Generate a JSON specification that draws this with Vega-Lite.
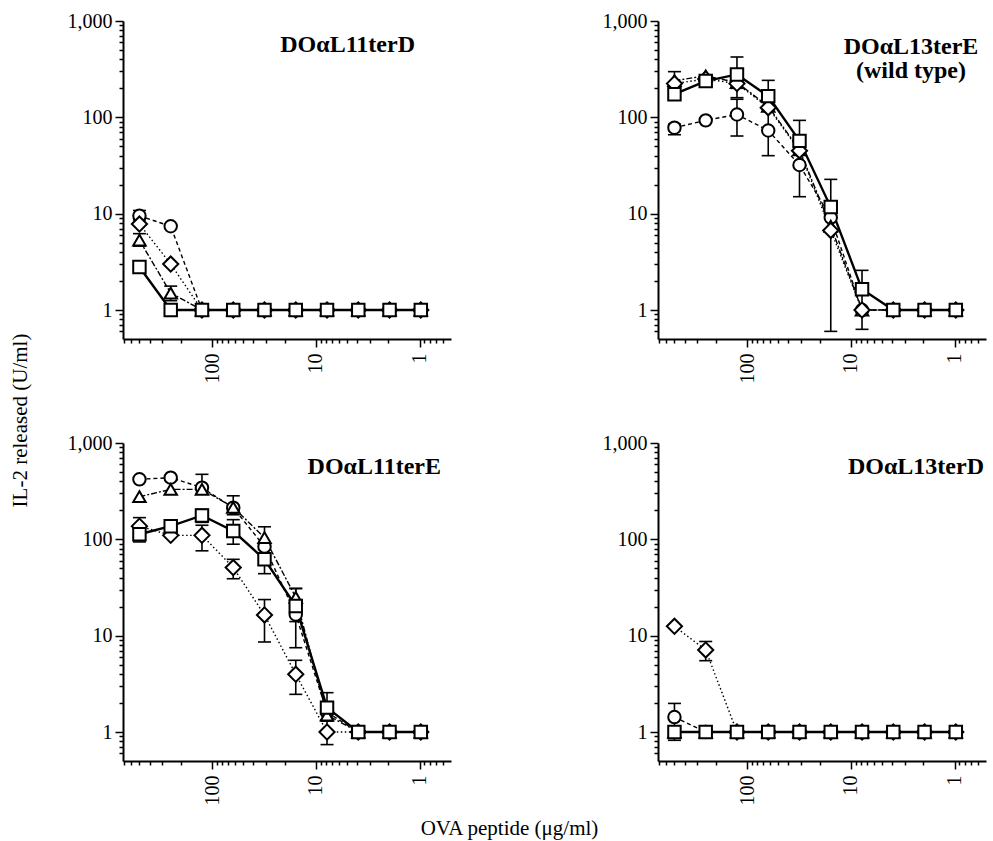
{
  "$schema": "https://vega.github.io/schema/vega-lite/v6.json",
  "background": "white",
  "padding": {"left": 9, "top": 11, "right": 5, "bottom": 3},
  "bounds": "flush",
  "columns": 2,
  "spacing": {"row": 104, "column": 207},
  "config": {
    "view": {"stroke": null},
    "axis": {"grid": false, "domainColor": "black", "domainWidth": 2, "tickColor": "black", "tickWidth": 1.5,
      "labelFont": "Liberation Serif", "labelFontSize": 20, "labelColor": "black",
      "titleFont": "Liberation Serif", "titleFontSize": 21, "titleFontWeight": "normal", "titleColor": "black"},
    "title": {"font": "Liberation Serif", "fontSize": 24, "fontWeight": "bold", "color": "black"}
  },
  "datasets": {
    "pts": [
      {"p":"A","s":"o","c":500,"v":9.5,"lo":8.6,"hi":10.8},
      {"p":"A","s":"o","c":250,"v":7.4},
      {"p":"A","s":"o","c":125,"v":1},{"p":"A","s":"o","c":62.5,"v":1},{"p":"A","s":"o","c":31.25,"v":1},{"p":"A","s":"o","c":15.625,"v":1},{"p":"A","s":"o","c":7.8125,"v":1},{"p":"A","s":"o","c":3.90625,"v":1},{"p":"A","s":"o","c":1.953125,"v":1},{"p":"A","s":"o","c":0.9765625,"v":1},
      {"p":"A","s":"t","c":500,"v":5.3,"lo":4.6,"hi":6.2},
      {"p":"A","s":"t","c":250,"v":1.5,"lo":1.25,"hi":1.77},
      {"p":"A","s":"t","c":125,"v":1},{"p":"A","s":"t","c":62.5,"v":1},{"p":"A","s":"t","c":31.25,"v":1},{"p":"A","s":"t","c":15.625,"v":1},{"p":"A","s":"t","c":7.8125,"v":1},{"p":"A","s":"t","c":3.90625,"v":1},{"p":"A","s":"t","c":1.953125,"v":1},{"p":"A","s":"t","c":0.9765625,"v":1},
      {"p":"A","s":"d","c":500,"v":7.8},
      {"p":"A","s":"d","c":250,"v":3.0},
      {"p":"A","s":"d","c":125,"v":1},{"p":"A","s":"d","c":62.5,"v":1},{"p":"A","s":"d","c":31.25,"v":1},{"p":"A","s":"d","c":15.625,"v":1},{"p":"A","s":"d","c":7.8125,"v":1},{"p":"A","s":"d","c":3.90625,"v":1},{"p":"A","s":"d","c":1.953125,"v":1},{"p":"A","s":"d","c":0.9765625,"v":1},
      {"p":"A","s":"s","c":500,"v":2.8},
      {"p":"A","s":"s","c":250,"v":1},
      {"p":"A","s":"s","c":125,"v":1},{"p":"A","s":"s","c":62.5,"v":1},{"p":"A","s":"s","c":31.25,"v":1},{"p":"A","s":"s","c":15.625,"v":1},{"p":"A","s":"s","c":7.8125,"v":1},{"p":"A","s":"s","c":3.90625,"v":1},{"p":"A","s":"s","c":1.953125,"v":1},{"p":"A","s":"s","c":0.9765625,"v":1},

      {"p":"B","s":"o","c":500,"v":78,"lo":66,"hi":85},
      {"p":"B","s":"o","c":250,"v":93},
      {"p":"B","s":"o","c":125,"v":107,"lo":64,"hi":154},
      {"p":"B","s":"o","c":62.5,"v":73,"lo":40,"hi":120},
      {"p":"B","s":"o","c":31.25,"v":32,"lo":15,"hi":50},
      {"p":"B","s":"o","c":15.625,"v":9.1},
      {"p":"B","s":"o","c":7.8125,"v":1},{"p":"B","s":"o","c":3.90625,"v":1},{"p":"B","s":"o","c":1.953125,"v":1},{"p":"B","s":"o","c":0.9765625,"v":1},
      {"p":"B","s":"t","c":500,"v":240},
      {"p":"B","s":"t","c":250,"v":270},
      {"p":"B","s":"t","c":125,"v":230},
      {"p":"B","s":"t","c":62.5,"v":130},
      {"p":"B","s":"t","c":31.25,"v":46},
      {"p":"B","s":"t","c":15.625,"v":7.4},
      {"p":"B","s":"t","c":7.8125,"v":1},{"p":"B","s":"t","c":3.90625,"v":1},{"p":"B","s":"t","c":1.953125,"v":1},{"p":"B","s":"t","c":0.9765625,"v":1},
      {"p":"B","s":"d","c":500,"v":224,"lo":195,"hi":298},
      {"p":"B","s":"d","c":250,"v":250},
      {"p":"B","s":"d","c":125,"v":224,"lo":160,"hi":280},
      {"p":"B","s":"d","c":62.5,"v":126},
      {"p":"B","s":"d","c":31.25,"v":45},
      {"p":"B","s":"d","c":15.625,"v":6.7},
      {"p":"B","s":"d","c":7.8125,"v":1},{"p":"B","s":"d","c":3.90625,"v":1},{"p":"B","s":"d","c":1.953125,"v":1},{"p":"B","s":"d","c":0.9765625,"v":1},
      {"p":"B","s":"s","c":500,"v":174},
      {"p":"B","s":"s","c":250,"v":238},
      {"p":"B","s":"s","c":125,"v":279,"lo":200,"hi":423},
      {"p":"B","s":"s","c":62.5,"v":166,"lo":130,"hi":242},
      {"p":"B","s":"s","c":31.25,"v":57,"lo":45,"hi":93},
      {"p":"B","s":"s","c":15.625,"v":11.7,"lo":0.6,"hi":22.7},
      {"p":"B","s":"s","c":7.8125,"v":1.64,"lo":0.63,"hi":2.58},
      {"p":"B","s":"s","c":3.90625,"v":1},{"p":"B","s":"s","c":1.953125,"v":1},{"p":"B","s":"s","c":0.9765625,"v":1},

      {"p":"C","s":"o","c":500,"v":420},
      {"p":"C","s":"o","c":250,"v":437},
      {"p":"C","s":"o","c":125,"v":344,"lo":300,"hi":473},
      {"p":"C","s":"o","c":62.5,"v":213,"lo":180,"hi":283},
      {"p":"C","s":"o","c":31.25,"v":84,"lo":70,"hi":135},
      {"p":"C","s":"o","c":15.625,"v":16.6,"lo":7.5,"hi":31},
      {"p":"C","s":"o","c":7.8125,"v":1.6},
      {"p":"C","s":"o","c":3.90625,"v":1},{"p":"C","s":"o","c":1.953125,"v":1},{"p":"C","s":"o","c":0.9765625,"v":1},
      {"p":"C","s":"t","c":500,"v":277},
      {"p":"C","s":"t","c":250,"v":330},
      {"p":"C","s":"t","c":125,"v":330},
      {"p":"C","s":"t","c":62.5,"v":215},
      {"p":"C","s":"t","c":31.25,"v":104},
      {"p":"C","s":"t","c":15.625,"v":25},
      {"p":"C","s":"t","c":7.8125,"v":1.5},
      {"p":"C","s":"t","c":3.90625,"v":1},{"p":"C","s":"t","c":1.953125,"v":1},{"p":"C","s":"t","c":0.9765625,"v":1},
      {"p":"C","s":"d","c":500,"v":137,"lo":115,"hi":168},
      {"p":"C","s":"d","c":250,"v":110},
      {"p":"C","s":"d","c":125,"v":110,"lo":76,"hi":140},
      {"p":"C","s":"d","c":62.5,"v":51,"lo":39,"hi":62},
      {"p":"C","s":"d","c":31.25,"v":16.4,"lo":8.6,"hi":23.7},
      {"p":"C","s":"d","c":15.625,"v":3.97,"lo":2.46,"hi":5.55},
      {"p":"C","s":"d","c":7.8125,"v":1,"lo":0.74,"hi":1.3},
      {"p":"C","s":"d","c":3.90625,"v":1},{"p":"C","s":"d","c":1.953125,"v":1},{"p":"C","s":"d","c":0.9765625,"v":1},
      {"p":"C","s":"s","c":500,"v":113,"lo":94,"hi":125},
      {"p":"C","s":"s","c":250,"v":137},
      {"p":"C","s":"s","c":125,"v":177,"lo":150,"hi":205},
      {"p":"C","s":"s","c":62.5,"v":122,"lo":89,"hi":160},
      {"p":"C","s":"s","c":31.25,"v":62,"lo":44,"hi":85},
      {"p":"C","s":"s","c":15.625,"v":20.3,"lo":14,"hi":30.8},
      {"p":"C","s":"s","c":7.8125,"v":1.79,"lo":1.3,"hi":2.56},
      {"p":"C","s":"s","c":3.90625,"v":1},{"p":"C","s":"s","c":1.953125,"v":1},{"p":"C","s":"s","c":0.9765625,"v":1},

      {"p":"D","s":"o","c":500,"v":1.43,"lo":1.1,"hi":1.98},
      {"p":"D","s":"o","c":250,"v":1},{"p":"D","s":"o","c":125,"v":1},{"p":"D","s":"o","c":62.5,"v":1},{"p":"D","s":"o","c":31.25,"v":1},{"p":"D","s":"o","c":15.625,"v":1},{"p":"D","s":"o","c":7.8125,"v":1},{"p":"D","s":"o","c":3.90625,"v":1},{"p":"D","s":"o","c":1.953125,"v":1},{"p":"D","s":"o","c":0.9765625,"v":1},
      {"p":"D","s":"t","c":500,"v":1},{"p":"D","s":"t","c":250,"v":1},{"p":"D","s":"t","c":125,"v":1},{"p":"D","s":"t","c":62.5,"v":1},{"p":"D","s":"t","c":31.25,"v":1},{"p":"D","s":"t","c":15.625,"v":1},{"p":"D","s":"t","c":7.8125,"v":1},{"p":"D","s":"t","c":3.90625,"v":1},{"p":"D","s":"t","c":1.953125,"v":1},{"p":"D","s":"t","c":0.9765625,"v":1},
      {"p":"D","s":"d","c":500,"v":12.5},
      {"p":"D","s":"d","c":250,"v":7.1,"lo":5.5,"hi":8.7},
      {"p":"D","s":"d","c":125,"v":1},{"p":"D","s":"d","c":62.5,"v":1},{"p":"D","s":"d","c":31.25,"v":1},{"p":"D","s":"d","c":15.625,"v":1},{"p":"D","s":"d","c":7.8125,"v":1},{"p":"D","s":"d","c":3.90625,"v":1},{"p":"D","s":"d","c":1.953125,"v":1},{"p":"D","s":"d","c":0.9765625,"v":1},
      {"p":"D","s":"s","c":500,"v":1,"lo":0.82,"hi":1.0},
      {"p":"D","s":"s","c":250,"v":1},{"p":"D","s":"s","c":125,"v":1},{"p":"D","s":"s","c":62.5,"v":1},{"p":"D","s":"s","c":31.25,"v":1},{"p":"D","s":"s","c":15.625,"v":1},{"p":"D","s":"s","c":7.8125,"v":1},{"p":"D","s":"s","c":3.90625,"v":1},{"p":"D","s":"s","c":1.953125,"v":1},{"p":"D","s":"s","c":0.9765625,"v":1}
    ]
  },
  "concat": [
    {
      "width": 328, "height": 318,
      "data": {"name": "pts"},
      "transform": [{"filter": "datum.p === 'A'"}],
      "title": {"text": "DOαL11terD", "anchor": "end", "frame": "group", "offset": -65, "dx": -36, "baseline": "alphabetic"},
      "encoding": {
        "x": {"field": "c", "type": "quantitative", "scale": {"type": "log", "domain": [0.5, 720], "reverse": true, "nice": false},
          "axis": {"title": null, "values": [700,600,500,400,300,200,100,90,80,70,60,50,40,30,20,10,9,8,7,6,5,4,3,2,1,0.9,0.8,0.7,0.6],
            "labelExpr": "indexof([1,10,100], datum.value) >= 0 ? '' + datum.value : ''", "labelAngle": 270, "labelPadding": 6,
            "labelOverlap": false, "labelFlush": false, "labelBound": false,
            "tickSize": {"condition": {"test": "indexof([1,10,100], datum.value) >= 0", "value": 8}, "value": 4}}},
        "y": {"field": "v", "type": "quantitative", "scale": {"type": "log", "domain": [0.5, 1000], "nice": false},
          "axis": {"title": "IL-2 released (U/ml)", "titleX": -103, "titleY": 399, "titleAngle": 270, "titleBaseline": "middle", "titleAlign": "center",
            "values": [0.6,0.7,0.8,0.9,1,2,3,4,5,6,7,8,9,10,20,30,40,50,60,70,80,90,100,200,300,400,500,600,700,800,900,1000],
            "labelExpr": "indexof([1,10,100,1000], datum.value) >= 0 ? format(datum.value, ',') : ''", "labelPadding": 3, "labelOverlap": false, "labelFlush": false, "labelBound": false,
            "tickSize": {"condition": {"test": "indexof([1,10,100,1000], datum.value) >= 0", "value": 8}, "value": 4}}}
      },
      "layer": [
        {"transform": [{"filter": "datum.s !== 's'"}], "mark": {"type": "line", "color": "black", "strokeWidth": 1.4},
          "encoding": {"strokeDash": {"field": "s", "type": "nominal", "scale": {"domain": ["o","t","d"], "range": [[4,3],[6,2,2,2],[1.5,2.5]]}, "legend": null}}},
        {"transform": [{"filter": "datum.s === 's'"}], "mark": {"type": "line", "color": "black", "strokeWidth": 2.4}, "encoding": {}},
        {"transform": [{"filter": "isValid(datum.hi)"}], "mark": {"type": "rule", "color": "black", "strokeWidth": 1.6},
          "encoding": {"y": {"field": "lo", "type": "quantitative", "scale": {"type": "log", "domain": [0.5, 1000], "nice": false},
          "axis": {"title": "IL-2 released (U/ml)", "titleX": -103, "titleY": 399, "titleAngle": 270, "titleBaseline": "middle", "titleAlign": "center",
            "values": [0.6,0.7,0.8,0.9,1,2,3,4,5,6,7,8,9,10,20,30,40,50,60,70,80,90,100,200,300,400,500,600,700,800,900,1000],
            "labelExpr": "indexof([1,10,100,1000], datum.value) >= 0 ? format(datum.value, ',') : ''", "labelPadding": 3, "labelOverlap": false, "labelFlush": false, "labelBound": false,
            "tickSize": {"condition": {"test": "indexof([1,10,100,1000], datum.value) >= 0", "value": 8}, "value": 4}}}, "y2": {"field": "hi"}}},
        {"transform": [{"filter": "isValid(datum.hi)"}], "mark": {"type": "tick", "orient": "horizontal", "color": "black", "size": 13, "thickness": 1.6, "opacity": 1},
          "encoding": {"y": {"field": "hi", "type": "quantitative", "scale": {"type": "log", "domain": [0.5, 1000], "nice": false},
          "axis": {"title": "IL-2 released (U/ml)", "titleX": -103, "titleY": 399, "titleAngle": 270, "titleBaseline": "middle", "titleAlign": "center",
            "values": [0.6,0.7,0.8,0.9,1,2,3,4,5,6,7,8,9,10,20,30,40,50,60,70,80,90,100,200,300,400,500,600,700,800,900,1000],
            "labelExpr": "indexof([1,10,100,1000], datum.value) >= 0 ? format(datum.value, ',') : ''", "labelPadding": 3, "labelOverlap": false, "labelFlush": false, "labelBound": false,
            "tickSize": {"condition": {"test": "indexof([1,10,100,1000], datum.value) >= 0", "value": 8}, "value": 4}}}}},
        {"transform": [{"filter": "isValid(datum.lo)"}], "mark": {"type": "tick", "orient": "horizontal", "color": "black", "size": 13, "thickness": 1.6, "opacity": 1},
          "encoding": {"y": {"field": "lo", "type": "quantitative", "scale": {"type": "log", "domain": [0.5, 1000], "nice": false},
          "axis": {"title": "IL-2 released (U/ml)", "titleX": -103, "titleY": 399, "titleAngle": 270, "titleBaseline": "middle", "titleAlign": "center",
            "values": [0.6,0.7,0.8,0.9,1,2,3,4,5,6,7,8,9,10,20,30,40,50,60,70,80,90,100,200,300,400,500,600,700,800,900,1000],
            "labelExpr": "indexof([1,10,100,1000], datum.value) >= 0 ? format(datum.value, ',') : ''", "labelPadding": 3, "labelOverlap": false, "labelFlush": false, "labelBound": false,
            "tickSize": {"condition": {"test": "indexof([1,10,100,1000], datum.value) >= 0", "value": 8}, "value": 4}}}}},
        {"mark": {"type": "point", "filled": true, "fill": "white", "stroke": "black", "strokeWidth": 2, "opacity": 1},
          "encoding": {"shape": {"field": "s", "type": "nominal", "scale": {"domain": ["o","t","d","s"], "range": ["circle","triangle-up","diamond","square"]}, "legend": null},
            "size": {"condition": {"test": "datum.s === 'd'", "value": 230}, "value": 155}}}
      ]
    },
    {
      "width": 328, "height": 318,
      "data": {"name": "pts"},
      "transform": [{"filter": "datum.p === 'B'"}],
      "title": {"text": ["DOαL13terE", "(wild  type)"], "anchor": "end", "frame": "group", "offset": -91, "dx": -75, "align": "center", "baseline": "alphabetic", "lineHeight": 24},
      "encoding": {
        "x": {"field": "c", "type": "quantitative", "scale": {"type": "log", "domain": [0.5, 720], "reverse": true, "nice": false},
          "axis": {"title": null, "values": [700,600,500,400,300,200,100,90,80,70,60,50,40,30,20,10,9,8,7,6,5,4,3,2,1,0.9,0.8,0.7,0.6],
            "labelExpr": "indexof([1,10,100], datum.value) >= 0 ? '' + datum.value : ''", "labelAngle": 270, "labelPadding": 6,
            "labelOverlap": false, "labelFlush": false, "labelBound": false,
            "tickSize": {"condition": {"test": "indexof([1,10,100], datum.value) >= 0", "value": 8}, "value": 4}}},
        "y": {"field": "v", "type": "quantitative", "scale": {"type": "log", "domain": [0.5, 1000], "nice": false},
          "axis": {"title": null,
            "values": [0.6,0.7,0.8,0.9,1,2,3,4,5,6,7,8,9,10,20,30,40,50,60,70,80,90,100,200,300,400,500,600,700,800,900,1000],
            "labelExpr": "indexof([1,10,100,1000], datum.value) >= 0 ? format(datum.value, ',') : ''", "labelPadding": 3, "labelOverlap": false, "labelFlush": false, "labelBound": false,
            "tickSize": {"condition": {"test": "indexof([1,10,100,1000], datum.value) >= 0", "value": 8}, "value": 4}}}
      },
      "layer": [
        {"transform": [{"filter": "datum.s !== 's'"}], "mark": {"type": "line", "color": "black", "strokeWidth": 1.4},
          "encoding": {"strokeDash": {"field": "s", "type": "nominal", "scale": {"domain": ["o","t","d"], "range": [[4,3],[6,2,2,2],[1.5,2.5]]}, "legend": null}}},
        {"transform": [{"filter": "datum.s === 's'"}], "mark": {"type": "line", "color": "black", "strokeWidth": 2.4}, "encoding": {}},
        {"transform": [{"filter": "isValid(datum.hi)"}], "mark": {"type": "rule", "color": "black", "strokeWidth": 1.6},
          "encoding": {"y": {"field": "lo", "type": "quantitative", "scale": {"type": "log", "domain": [0.5, 1000], "nice": false},
          "axis": {"title": null,
            "values": [0.6,0.7,0.8,0.9,1,2,3,4,5,6,7,8,9,10,20,30,40,50,60,70,80,90,100,200,300,400,500,600,700,800,900,1000],
            "labelExpr": "indexof([1,10,100,1000], datum.value) >= 0 ? format(datum.value, ',') : ''", "labelPadding": 3, "labelOverlap": false, "labelFlush": false, "labelBound": false,
            "tickSize": {"condition": {"test": "indexof([1,10,100,1000], datum.value) >= 0", "value": 8}, "value": 4}}}, "y2": {"field": "hi"}}},
        {"transform": [{"filter": "isValid(datum.hi)"}], "mark": {"type": "tick", "orient": "horizontal", "color": "black", "size": 13, "thickness": 1.6, "opacity": 1},
          "encoding": {"y": {"field": "hi", "type": "quantitative", "scale": {"type": "log", "domain": [0.5, 1000], "nice": false},
          "axis": {"title": null,
            "values": [0.6,0.7,0.8,0.9,1,2,3,4,5,6,7,8,9,10,20,30,40,50,60,70,80,90,100,200,300,400,500,600,700,800,900,1000],
            "labelExpr": "indexof([1,10,100,1000], datum.value) >= 0 ? format(datum.value, ',') : ''", "labelPadding": 3, "labelOverlap": false, "labelFlush": false, "labelBound": false,
            "tickSize": {"condition": {"test": "indexof([1,10,100,1000], datum.value) >= 0", "value": 8}, "value": 4}}}}},
        {"transform": [{"filter": "isValid(datum.lo)"}], "mark": {"type": "tick", "orient": "horizontal", "color": "black", "size": 13, "thickness": 1.6, "opacity": 1},
          "encoding": {"y": {"field": "lo", "type": "quantitative", "scale": {"type": "log", "domain": [0.5, 1000], "nice": false},
          "axis": {"title": null,
            "values": [0.6,0.7,0.8,0.9,1,2,3,4,5,6,7,8,9,10,20,30,40,50,60,70,80,90,100,200,300,400,500,600,700,800,900,1000],
            "labelExpr": "indexof([1,10,100,1000], datum.value) >= 0 ? format(datum.value, ',') : ''", "labelPadding": 3, "labelOverlap": false, "labelFlush": false, "labelBound": false,
            "tickSize": {"condition": {"test": "indexof([1,10,100,1000], datum.value) >= 0", "value": 8}, "value": 4}}}}},
        {"mark": {"type": "point", "filled": true, "fill": "white", "stroke": "black", "strokeWidth": 2, "opacity": 1},
          "encoding": {"shape": {"field": "s", "type": "nominal", "scale": {"domain": ["o","t","d","s"], "range": ["circle","triangle-up","diamond","square"]}, "legend": null},
            "size": {"condition": {"test": "datum.s === 'd'", "value": 230}, "value": 155}}}
      ]
    },
    {
      "width": 328, "height": 318,
      "data": {"name": "pts"},
      "transform": [{"filter": "datum.p === 'C'"}],
      "title": {"text": "DOαL11terE", "anchor": "end", "frame": "group", "offset": -65, "dx": -10, "baseline": "alphabetic"},
      "encoding": {
        "x": {"field": "c", "type": "quantitative", "scale": {"type": "log", "domain": [0.5, 720], "reverse": true, "nice": false},
          "axis": {"title": "OVA peptide (μg/ml)", "titleX": 386, "titleY": 67, "titleBaseline": "middle", "titleAlign": "center",
            "values": [700,600,500,400,300,200,100,90,80,70,60,50,40,30,20,10,9,8,7,6,5,4,3,2,1,0.9,0.8,0.7,0.6],
            "labelExpr": "indexof([1,10,100], datum.value) >= 0 ? '' + datum.value : ''", "labelAngle": 270, "labelPadding": 6,
            "labelOverlap": false, "labelFlush": false, "labelBound": false,
            "tickSize": {"condition": {"test": "indexof([1,10,100], datum.value) >= 0", "value": 8}, "value": 4}}},
        "y": {"field": "v", "type": "quantitative", "scale": {"type": "log", "domain": [0.5, 1000], "nice": false},
          "axis": {"title": null,
            "values": [0.6,0.7,0.8,0.9,1,2,3,4,5,6,7,8,9,10,20,30,40,50,60,70,80,90,100,200,300,400,500,600,700,800,900,1000],
            "labelExpr": "indexof([1,10,100,1000], datum.value) >= 0 ? format(datum.value, ',') : ''", "labelPadding": 3, "labelOverlap": false, "labelFlush": false, "labelBound": false,
            "tickSize": {"condition": {"test": "indexof([1,10,100,1000], datum.value) >= 0", "value": 8}, "value": 4}}}
      },
      "layer": [
        {"transform": [{"filter": "datum.s !== 's'"}], "mark": {"type": "line", "color": "black", "strokeWidth": 1.4},
          "encoding": {"strokeDash": {"field": "s", "type": "nominal", "scale": {"domain": ["o","t","d"], "range": [[4,3],[6,2,2,2],[1.5,2.5]]}, "legend": null}}},
        {"transform": [{"filter": "datum.s === 's'"}], "mark": {"type": "line", "color": "black", "strokeWidth": 2.4}, "encoding": {}},
        {"transform": [{"filter": "isValid(datum.hi)"}], "mark": {"type": "rule", "color": "black", "strokeWidth": 1.6},
          "encoding": {"y": {"field": "lo", "type": "quantitative", "scale": {"type": "log", "domain": [0.5, 1000], "nice": false},
          "axis": {"title": null,
            "values": [0.6,0.7,0.8,0.9,1,2,3,4,5,6,7,8,9,10,20,30,40,50,60,70,80,90,100,200,300,400,500,600,700,800,900,1000],
            "labelExpr": "indexof([1,10,100,1000], datum.value) >= 0 ? format(datum.value, ',') : ''", "labelPadding": 3, "labelOverlap": false, "labelFlush": false, "labelBound": false,
            "tickSize": {"condition": {"test": "indexof([1,10,100,1000], datum.value) >= 0", "value": 8}, "value": 4}}}, "y2": {"field": "hi"}}},
        {"transform": [{"filter": "isValid(datum.hi)"}], "mark": {"type": "tick", "orient": "horizontal", "color": "black", "size": 13, "thickness": 1.6, "opacity": 1},
          "encoding": {"y": {"field": "hi", "type": "quantitative", "scale": {"type": "log", "domain": [0.5, 1000], "nice": false},
          "axis": {"title": null,
            "values": [0.6,0.7,0.8,0.9,1,2,3,4,5,6,7,8,9,10,20,30,40,50,60,70,80,90,100,200,300,400,500,600,700,800,900,1000],
            "labelExpr": "indexof([1,10,100,1000], datum.value) >= 0 ? format(datum.value, ',') : ''", "labelPadding": 3, "labelOverlap": false, "labelFlush": false, "labelBound": false,
            "tickSize": {"condition": {"test": "indexof([1,10,100,1000], datum.value) >= 0", "value": 8}, "value": 4}}}}},
        {"transform": [{"filter": "isValid(datum.lo)"}], "mark": {"type": "tick", "orient": "horizontal", "color": "black", "size": 13, "thickness": 1.6, "opacity": 1},
          "encoding": {"y": {"field": "lo", "type": "quantitative", "scale": {"type": "log", "domain": [0.5, 1000], "nice": false},
          "axis": {"title": null,
            "values": [0.6,0.7,0.8,0.9,1,2,3,4,5,6,7,8,9,10,20,30,40,50,60,70,80,90,100,200,300,400,500,600,700,800,900,1000],
            "labelExpr": "indexof([1,10,100,1000], datum.value) >= 0 ? format(datum.value, ',') : ''", "labelPadding": 3, "labelOverlap": false, "labelFlush": false, "labelBound": false,
            "tickSize": {"condition": {"test": "indexof([1,10,100,1000], datum.value) >= 0", "value": 8}, "value": 4}}}}},
        {"mark": {"type": "point", "filled": true, "fill": "white", "stroke": "black", "strokeWidth": 2, "opacity": 1},
          "encoding": {"shape": {"field": "s", "type": "nominal", "scale": {"domain": ["o","t","d","s"], "range": ["circle","triangle-up","diamond","square"]}, "legend": null},
            "size": {"condition": {"test": "datum.s === 'd'", "value": 230}, "value": 155}}}
      ]
    },
    {
      "width": 328, "height": 318,
      "data": {"name": "pts"},
      "transform": [{"filter": "datum.p === 'D'"}],
      "title": {"text": "DOαL13terD", "anchor": "end", "frame": "group", "offset": -65, "dx": -2, "baseline": "alphabetic"},
      "encoding": {
        "x": {"field": "c", "type": "quantitative", "scale": {"type": "log", "domain": [0.5, 720], "reverse": true, "nice": false},
          "axis": {"title": null, "values": [700,600,500,400,300,200,100,90,80,70,60,50,40,30,20,10,9,8,7,6,5,4,3,2,1,0.9,0.8,0.7,0.6],
            "labelExpr": "indexof([1,10,100], datum.value) >= 0 ? '' + datum.value : ''", "labelAngle": 270, "labelPadding": 6,
            "labelOverlap": false, "labelFlush": false, "labelBound": false,
            "tickSize": {"condition": {"test": "indexof([1,10,100], datum.value) >= 0", "value": 8}, "value": 4}}},
        "y": {"field": "v", "type": "quantitative", "scale": {"type": "log", "domain": [0.5, 1000], "nice": false},
          "axis": {"title": null,
            "values": [0.6,0.7,0.8,0.9,1,2,3,4,5,6,7,8,9,10,20,30,40,50,60,70,80,90,100,200,300,400,500,600,700,800,900,1000],
            "labelExpr": "indexof([1,10,100,1000], datum.value) >= 0 ? format(datum.value, ',') : ''", "labelPadding": 3, "labelOverlap": false, "labelFlush": false, "labelBound": false,
            "tickSize": {"condition": {"test": "indexof([1,10,100,1000], datum.value) >= 0", "value": 8}, "value": 4}}}
      },
      "layer": [
        {"transform": [{"filter": "datum.s !== 's'"}], "mark": {"type": "line", "color": "black", "strokeWidth": 1.4},
          "encoding": {"strokeDash": {"field": "s", "type": "nominal", "scale": {"domain": ["o","t","d"], "range": [[4,3],[6,2,2,2],[1.5,2.5]]}, "legend": null}}},
        {"transform": [{"filter": "datum.s === 's'"}], "mark": {"type": "line", "color": "black", "strokeWidth": 2.4}, "encoding": {}},
        {"transform": [{"filter": "isValid(datum.hi)"}], "mark": {"type": "rule", "color": "black", "strokeWidth": 1.6},
          "encoding": {"y": {"field": "lo", "type": "quantitative", "scale": {"type": "log", "domain": [0.5, 1000], "nice": false},
          "axis": {"title": null,
            "values": [0.6,0.7,0.8,0.9,1,2,3,4,5,6,7,8,9,10,20,30,40,50,60,70,80,90,100,200,300,400,500,600,700,800,900,1000],
            "labelExpr": "indexof([1,10,100,1000], datum.value) >= 0 ? format(datum.value, ',') : ''", "labelPadding": 3, "labelOverlap": false, "labelFlush": false, "labelBound": false,
            "tickSize": {"condition": {"test": "indexof([1,10,100,1000], datum.value) >= 0", "value": 8}, "value": 4}}}, "y2": {"field": "hi"}}},
        {"transform": [{"filter": "isValid(datum.hi)"}], "mark": {"type": "tick", "orient": "horizontal", "color": "black", "size": 13, "thickness": 1.6, "opacity": 1},
          "encoding": {"y": {"field": "hi", "type": "quantitative", "scale": {"type": "log", "domain": [0.5, 1000], "nice": false},
          "axis": {"title": null,
            "values": [0.6,0.7,0.8,0.9,1,2,3,4,5,6,7,8,9,10,20,30,40,50,60,70,80,90,100,200,300,400,500,600,700,800,900,1000],
            "labelExpr": "indexof([1,10,100,1000], datum.value) >= 0 ? format(datum.value, ',') : ''", "labelPadding": 3, "labelOverlap": false, "labelFlush": false, "labelBound": false,
            "tickSize": {"condition": {"test": "indexof([1,10,100,1000], datum.value) >= 0", "value": 8}, "value": 4}}}}},
        {"transform": [{"filter": "isValid(datum.lo)"}], "mark": {"type": "tick", "orient": "horizontal", "color": "black", "size": 13, "thickness": 1.6, "opacity": 1},
          "encoding": {"y": {"field": "lo", "type": "quantitative", "scale": {"type": "log", "domain": [0.5, 1000], "nice": false},
          "axis": {"title": null,
            "values": [0.6,0.7,0.8,0.9,1,2,3,4,5,6,7,8,9,10,20,30,40,50,60,70,80,90,100,200,300,400,500,600,700,800,900,1000],
            "labelExpr": "indexof([1,10,100,1000], datum.value) >= 0 ? format(datum.value, ',') : ''", "labelPadding": 3, "labelOverlap": false, "labelFlush": false, "labelBound": false,
            "tickSize": {"condition": {"test": "indexof([1,10,100,1000], datum.value) >= 0", "value": 8}, "value": 4}}}}},
        {"mark": {"type": "point", "filled": true, "fill": "white", "stroke": "black", "strokeWidth": 2, "opacity": 1},
          "encoding": {"shape": {"field": "s", "type": "nominal", "scale": {"domain": ["o","t","d","s"], "range": ["circle","triangle-up","diamond","square"]}, "legend": null},
            "size": {"condition": {"test": "datum.s === 'd'", "value": 230}, "value": 155}}}
      ]
    }
  ]
}
